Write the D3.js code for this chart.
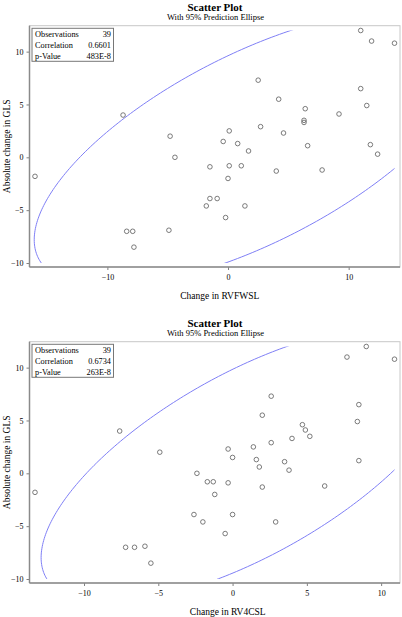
<!DOCTYPE html>
<html>
<head>
<meta charset="utf-8">
<script src="https://cdn.jsdelivr.net/npm/d3@7"></script>
<style>
  html, body { margin: 0; padding: 0; background: #fff; }
  svg { display: block; font-family: "Liberation Serif", "Times New Roman", serif; }
</style>
</head>
<body>
<div id="chart"></div>
<script>
// panel 1: change in RVFWSL vs absolute change in GLS
const rvfwsl = [-8.7, -4.8, -4.4, -0.4, 0.1, 0.8, 1.7, 2.5, 2.7, 4.2, 4.6, 6.4, 6.3, 6.3, 6.6, 9.2, 11.0, 11.9, 13.8, 11.0,
  11.5, 11.8, 12.4, -16.0, -1.5, 0.1, 1.1, 0.0, 4.0, 7.8, -1.5, -0.9, -1.8, 1.4, -0.2, -8.4, -7.9, -4.9, -7.8];
const glsA = [4.0, 2.0, 0.0, 1.5, 2.5, 1.3, 0.6, 7.3, 2.9, 5.5, 2.3, 4.6, 3.5, 3.3, 1.1, 4.1, 12.0, 11.0, 10.8, 6.5,
  4.9, 1.2, 0.3, -1.8, -0.9, -0.8, -0.8, -2.0, -1.3, -1.2, -3.9, -3.9, -4.6, -4.6, -5.7, -7.0, -7.0, -6.9, -8.5];

// panel 2: change in RV4CSL vs absolute change in GLS
const rv4csl = [-7.6, -4.9, -0.3, 0.0, 1.4, 1.6, 2.0, 2.6, 2.6, 4.0, 4.7, 4.9, 5.2, 7.7, 9.0, 10.9, 8.5, 8.4, 8.5, 3.5,
  1.8, 3.8, -13.3, -2.4, -1.7, -1.3, -0.3, -1.2, 2.0, 6.2, -2.6, 0.0, -2.0, 2.9, -0.5, -7.2, -6.6, -5.9, -5.5];
const glsB = [4.0, 2.0, 2.3, 1.5, 2.5, 1.3, 5.5, 7.3, 2.9, 3.3, 4.6, 4.1, 3.5, 11.0, 12.0, 10.8, 6.5, 4.9, 1.2, 1.1,
  0.6, 0.3, -1.8, 0.0, -0.8, -0.8, -0.9, -2.0, -1.3, -1.2, -3.9, -3.9, -4.6, -4.6, -5.7, -7.0, -7.0, -6.9, -8.5];

const statLabels = ["Observations", "Correlation", "p-Value"];
const statsA = ["39", "0.6601", "483E-8"];
const statsB = ["39", "0.6734", "263E-8"];

const xTicksA = [-10, 0, 10];
const xTicksB = [-10, -5, 0, 5, 10];
const yTicks = [-10, -5, 0, 5, 10];

const panels = [
  { xs: rvfwsl, ys: glsA, stats: statsA, xTicks: xTicksA, xLabel: "Change in RVFWSL", top: 0, labelShift: 5 },
  { xs: rv4csl, ys: glsB, stats: statsB, xTicks: xTicksB, xLabel: "Change in RV4CSL", top: 316, labelShift: 13 }
];

const W = 402, H = 617;
const svg = d3.select("#chart").append("svg").attr("width", W).attr("height", H);

const frame = { left: 29.5, right: 400, top: 25.7, bottom: 267 };

// 95% prediction ellipse from sample mean / covariance
function predictionEllipse(xs, ys) {
  const n = xs.length;
  const mx = d3.mean(xs), my = d3.mean(ys);
  let sxx = 0, syy = 0, sxy = 0;
  for (let i = 0; i < n; i++) {
    sxx += (xs[i] - mx) ** 2;
    syy += (ys[i] - my) ** 2;
    sxy += (xs[i] - mx) * (ys[i] - my);
  }
  sxx /= n - 1; syy /= n - 1; sxy /= n - 1;
  const df2 = n - 2;
  const f = (df2 / 2) * (Math.pow(0.05, -2 / df2) - 1); // F(0.95; 2, n-2)
  const c = Math.sqrt(2 * (n - 1) * (n + 1) / (n * (n - 2)) * f);
  // cholesky
  const l11 = Math.sqrt(sxx), l21 = sxy / l11, l22 = Math.sqrt(syy - l21 * l21);
  return d3.range(0, 361).map(deg => {
    const t = deg * Math.PI / 180;
    const u = Math.cos(t), v = Math.sin(t);
    return [mx + c * l11 * u, my + c * (l21 * u + l22 * v)];
  });
}

panels.forEach((p, idx) => {
  const g = svg.append("g").attr("transform", `translate(0,${p.top})`);

  const x = d3.scaleLinear().domain(d3.extent(p.xs)).range([frame.left + 5.5, frame.right - 5.5]);
  const y = d3.scaleLinear().domain([-10, d3.max(p.ys)]).range([263, 30.5]);

  // titles
  g.append("text").attr("x", 215).attr("y", 11).attr("text-anchor", "middle")
    .attr("font-size", 11).attr("font-weight", "bold").attr("fill", "#000").text("Scatter Plot");
  g.append("text").attr("x", 215.5).attr("y", 19.5).attr("text-anchor", "middle")
    .attr("font-size", 8.5).attr("fill", "#000").text("With 95% Prediction Ellipse");

  // frame
  g.append("rect").attr("x", frame.left).attr("y", frame.top)
    .attr("width", frame.right - frame.left).attr("height", frame.bottom - frame.top)
    .attr("fill", "none").attr("stroke", "#c8c8c8").attr("stroke-width", 1);

  // axes
  const xAxis = g.append("g").attr("transform", `translate(0,${frame.bottom})`)
    .call(d3.axisBottom(x).tickValues(p.xTicks).tickSize(3).tickPadding(4).tickFormat(d3.format("d")));
  const yAxis = g.append("g").attr("transform", `translate(${frame.left},0)`)
    .call(d3.axisLeft(y).tickValues(yTicks).tickSize(3).tickPadding(3).tickFormat(d3.format("d")));
  [xAxis, yAxis].forEach(a => {
    a.select(".domain").remove();
    a.selectAll(".tick line").attr("stroke", "#808080");
    a.selectAll("text").attr("font-family", "Liberation Serif, serif").attr("font-size", 8).attr("fill", "#000");
  });
  // heavier axis lines
  g.append("line").attr("x1", frame.left).attr("x2", frame.right).attr("y1", frame.bottom).attr("y2", frame.bottom)
    .attr("stroke", "#8a8a8a").attr("stroke-width", 1.5);
  g.append("line").attr("x1", frame.left).attr("x2", frame.left).attr("y1", frame.top).attr("y2", frame.bottom)
    .attr("stroke", "#8a8a8a").attr("stroke-width", 1.5);

  // axis labels
  g.append("text").attr("x", (frame.left + frame.right) / 2 + p.labelShift).attr("y", 299)
    .attr("text-anchor", "middle").attr("font-size", 9.5).attr("fill", "#000").text(p.xLabel);
  g.append("text").attr("transform", `translate(10,${(frame.top + frame.bottom) / 2}) rotate(-90)`)
    .attr("text-anchor", "middle").attr("font-size", 9.5).attr("fill", "#000").text("Absolute change in GLS");

  // ellipse, clipped to the data range
  const clipId = "clip" + idx;
  g.append("clipPath").attr("id", clipId).append("rect")
    .attr("x", frame.left).attr("y", y.range()[1])
    .attr("width", x.range()[1] - frame.left).attr("height", y.range()[0] - y.range()[1]);
  const line = d3.line().x(d => x(d[0])).y(d => y(d[1]));
  g.append("path").datum(predictionEllipse(p.xs, p.ys))
    .attr("clip-path", `url(#${clipId})`)
    .attr("d", line).attr("fill", "none").attr("stroke", "#7f7ff5").attr("stroke-width", 1);

  // points
  g.append("g").selectAll("circle").data(p.xs.map((v, i) => [v, p.ys[i]])).join("circle")
    .attr("cx", d => x(d[0])).attr("cy", d => y(d[1])).attr("r", 2.3)
    .attr("fill", "none").attr("stroke", "#5a5a5a").attr("stroke-width", 0.8);

  // inset statistics table
  const box = g.append("g").attr("transform", "translate(32,28.3)");
  box.append("rect").attr("width", 81.5).attr("height", 33).attr("fill", "#fff")
    .attr("stroke", "#777").attr("stroke-width", 1);
  statLabels.forEach((s, i) => {
    box.append("text").attr("x", 3).attr("y", 9 + i * 10.7).attr("font-size", 8.3).attr("fill", "#000").text(s);
    box.append("text").attr("x", 79).attr("y", 9 + i * 10.7).attr("text-anchor", "end")
      .attr("font-size", 8.3).attr("fill", "#000").text(p.stats[i]);
  });
});
</script>
</body>
</html>
